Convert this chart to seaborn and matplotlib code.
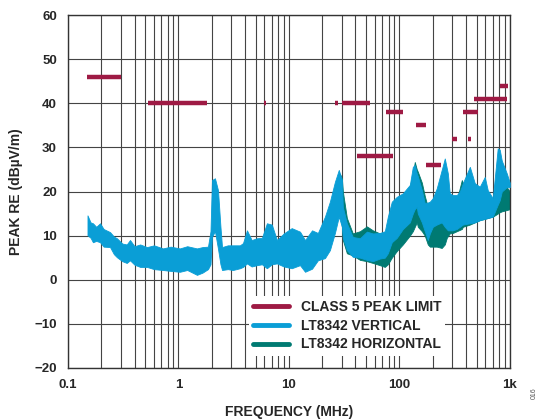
import numpy as np
import pandas as pd
import matplotlib
matplotlib.use("Agg")
import matplotlib.pyplot as plt
from matplotlib.lines import Line2D
import seaborn as sns

# CLASS 5 peak limit segments (MHz, MHz, dBuV/m)
lim_start = [0.15, 0.53, 5.9, 26, 30, 41, 76, 142, 174, 300, 380, 420, 470, 820]
lim_stop = [0.30, 1.8, 6.2, 28, 54, 88, 108, 175, 240, 330, 512, 450, 935, 960]
lim_level = [46, 40, 40, 40, 40, 28, 38, 35, 26, 32, 38, 32, 41, 44]

# LT8342 vertical: envelope of the peak trace
vert_freq = [0.15, 0.16, 0.168, 0.18, 0.195, 0.21, 0.24, 0.26, 0.277, 0.31,
             0.34, 0.364, 0.40, 0.45, 0.519, 0.6, 0.724, 0.85, 1.03, 1.2,
             1.47, 1.65, 1.85, 1.95, 2.01, 2.14, 2.28, 2.4, 2.48, 2.8,
             3.11, 3.6, 3.84, 4.17, 4.6, 5.13, 5.7, 6.32, 7.0, 7.79,
             9.0, 10.6, 12.6, 14.0, 16.2, 18.3, 21.2, 23.5, 26.1, 28.3,
             30.2, 30.8, 33.5, 37.9, 44.0, 50.8, 57.6, 66.6, 73.9, 78.7,
             85.5, 94.9, 107.6, 124.5, 132.5, 138, 144, 147, 160, 170,
             181, 189, 201, 218, 242, 258, 275, 286, 305, 331,
             353, 376, 435, 482, 535, 594, 632, 702, 778, 811,
             847, 940, 1000]
vert_hi = [14.6, 13.0, 12.8, 12.0, 12.8, 11.5, 10.8, 9.8, 9.4, 8.2,
           8.0, 9.0, 7.6, 8.0, 7.4, 7.8, 7.1, 7.5, 7.1, 7.6,
           7.1, 7.4, 7.5, 11.0, 22.6, 23.0, 20.3, 12.0, 7.4, 7.8,
           7.8, 7.8, 8.3, 11.2, 9.0, 9.4, 9.5, 12.8, 12.5, 9.0,
           10.5, 11.7, 10.9, 9.0, 11.2, 10.6, 14.3, 17.7, 22.2, 24.9,
           22.6, 16.5, 12.8, 9.7, 9.4, 10.9, 10.5, 10.6, 11.0, 14.3,
           17.7, 18.8, 19.6, 21.5, 25.6, 26.0, 24.1, 23.5, 20.3, 17.4,
           17.5, 17.7, 18.5, 20.7, 24.9, 27.5, 24.1, 19.6, 19.2, 19.2,
           20.0, 21.9, 25.6, 21.9, 21.1, 23.3, 20.3, 18.5, 29.8, 29.5,
           27.0, 24.1, 22.0]
vert_lo = [10.1, 9.5, 8.5, 8.8, 8.5, 7.5, 7.4, 5.8, 5.1, 4.2,
           3.8, 4.4, 3.4, 2.9, 2.9, 2.4, 2.2, 2.0, 1.8, 2.2,
           1.1, 1.6, 2.4, 3.5, 9.7, 11.0, 7.0, 3.5, 2.2, 2.4,
           2.2, 2.6, 2.9, 3.7, 3.0, 3.3, 3.5, 2.6, 3.5, 3.7,
           3.0, 2.6, 3.3, 1.8, 2.5, 4.4, 4.9, 6.7, 10.6, 14.3,
           12.0, 9.5, 6.7, 5.2, 5.0, 4.5, 4.2, 4.8, 5.0, 6.0,
           8.5, 9.5, 11.5, 13.0, 15.0, 16.0, 16.5, 15.0, 13.0, 11.0,
           9.0, 10.5, 12.0, 12.5, 13.0, 12.0, 11.2, 11.2, 11.2, 11.5,
           12.0, 12.5, 12.8, 13.0, 13.5, 13.8, 14.0, 14.3, 17.0, 18.0,
           20.0, 21.0, 21.0]

# LT8342 horizontal: envelope (only the part that shows from under the vertical trace)
horz_freq = [29, 30.2, 30.8, 33.5, 37.9, 44.0, 50.8, 57.6, 66.6, 73.9,
             78.7, 85.5, 94.9, 107.6, 124.5, 132.5, 138, 144, 147, 160,
             170, 181, 189, 201, 218, 242, 258, 269, 286, 305,
             331, 368, 376, 435, 482, 535, 594, 702, 778, 811,
             847, 940, 1000]
horz_hi = [24.0, 23.0, 20.0, 14.0, 10.5, 11.0, 12.1, 11.2, 10.5, 10.5,
           12.0, 15.0, 17.0, 19.0, 21.0, 24.0, 26.7, 25.0, 24.5, 22.0,
           19.0, 16.5, 16.0, 16.5, 17.5, 18.0, 17.5, 17.5, 17.0, 17.0,
           18.0, 22.6, 22.0, 21.0, 19.0, 19.0, 19.0, 18.0, 22.0, 22.5,
           22.0, 21.0, 20.0]
horz_lo = [16.0, 12.0, 9.0, 6.0, 5.5, 4.5, 4.2, 3.8, 3.3, 2.9,
           3.5, 5.0, 6.5, 8.0, 10.0, 11.0, 12.0, 13.0, 12.0, 11.0,
           10.0, 8.0, 7.5, 7.5, 7.5, 7.2, 8.0, 9.5, 10.5, 10.6,
           11.0, 11.5, 12.0, 12.5, 13.0, 13.5, 13.8, 14.3, 15.0, 15.3,
           15.5, 15.8, 16.0]

x_ticks = [0.1, 1, 10, 100, 1000]
x_labels = ["0.1", "1", "10", "100", "1k"]
y_ticks = list(range(-20, 70, 10))

c_lim = "#9e1a44"
c_vert = "#0a9ed6"
c_horz = "#007a72"

sns.set_style("white")
plt.rcParams["font.family"] = ["Liberation Sans", "DejaVu Sans"]
plt.rcParams["font.weight"] = "bold"

fig = plt.figure(figsize=(5.4, 4.2), dpi=100)
ax = fig.add_axes([0.126, 0.124, 0.818, 0.840])

ax.fill_between(horz_freq, horz_lo, horz_hi, color=c_horz, lw=0.6, zorder=2)
ax.fill_between(vert_freq, vert_lo, vert_hi, color=c_vert, lw=0.6, zorder=3)

lim_df = pd.DataFrame({
    "seg": np.repeat(np.arange(len(lim_level)), 2),
    "freq": np.ravel(np.column_stack([lim_start, lim_stop])),
    "level": np.repeat(lim_level, 2),
})
sns.lineplot(data=lim_df, x="freq", y="level", units="seg", estimator=None,
             color=c_lim, lw=3.2, solid_capstyle="butt", ax=ax, zorder=4)

ax.set_xscale("log")
ax.set_xlim(0.1, 1000)
ax.set_ylim(-20, 60)
ax.set_xticks(x_ticks)
ax.set_xticklabels(x_labels)
ax.set_yticks(y_ticks)
ax.set_yticklabels([str(v).replace("-", "\u2212") for v in y_ticks])
ax.tick_params(axis="both", length=0, labelsize=9.5, pad=8)
for lab in ax.get_xticklabels() + ax.get_yticklabels():
    lab.set_fontweight("bold")

ax.grid(True, which="both", axis="x", color="#444444", lw=0.8)
ax.grid(True, which="major", axis="y", color="#444444", lw=0.8)
ax.set_axisbelow(True)
for sp in ax.spines.values():
    sp.set_color("#333333")
    sp.set_linewidth(1.0)

ax.set_xlabel("FREQUENCY (MHz)", fontsize=10, fontweight="bold", labelpad=10)
ax.set_ylabel("PEAK RE (dBµV/m)", fontsize=10, fontweight="bold", labelpad=8)

handles = [Line2D([], [], color=c_lim, lw=3.5),
           Line2D([], [], color=c_vert, lw=3.5),
           Line2D([], [], color=c_horz, lw=3.5)]
leg = ax.legend(handles, ["CLASS 5 PEAK LIMIT", "LT8342 VERTICAL", "LT8342 HORIZONTAL"],
                loc="lower left", bbox_to_anchor=(0.41, 0.035), frameon=True,
                facecolor="white", edgecolor="none", framealpha=1, fancybox=False,
                borderaxespad=0, handlelength=2.6, handletextpad=0.8,
                labelspacing=0.35, borderpad=0.3, prop={"size": 10, "weight": "bold"})
leg.set_zorder(5)

fig.text(0.99, 0.05, "016", rotation=90, fontsize=5, color="#555555",
         fontweight="normal", ha="center", va="bottom")

fig.savefig("out.png", dpi=100)
